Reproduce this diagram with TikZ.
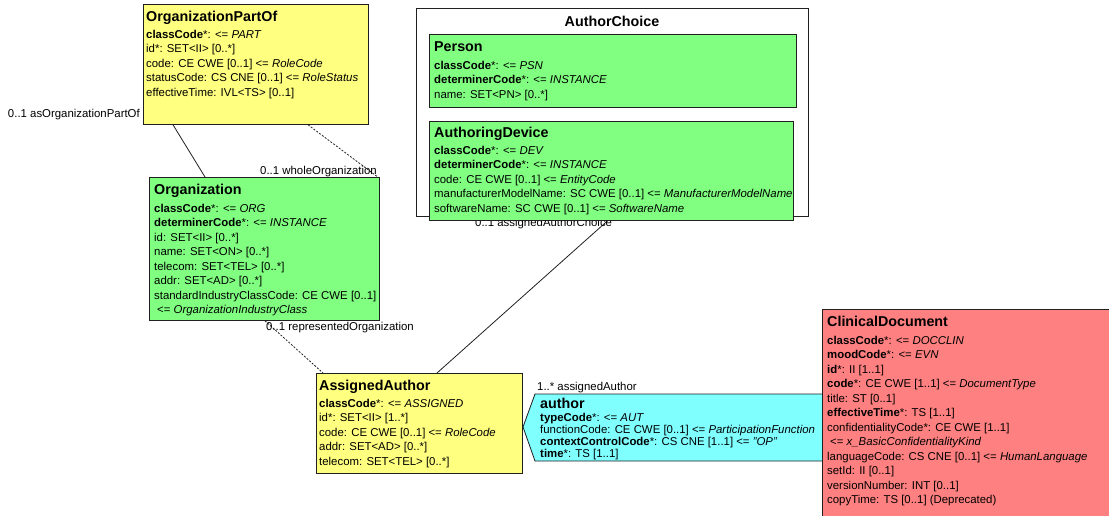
\documentclass[tikz,border=0pt]{standalone}
\usepackage{fontspec}
\setmainfont{Liberation Sans}
\usetikzlibrary{calc,backgrounds}
\definecolor{yel}{HTML}{FFFF80}
\definecolor{grn}{HTML}{80FF80}
\definecolor{cyn}{HTML}{80FFFF}
\definecolor{rosa}{HTML}{FF8080}
\definecolor{edge}{HTML}{202020}
\begin{document}
\begin{tikzpicture}[x=1pt,y=-1pt,
  box/.style={draw=edge,line width=0.8pt,inner sep=0pt,anchor=north west},
  ttl/.style={anchor=base west,inner sep=0pt,font=\fontsize{14.3}{16}\selectfont\bfseries},
  attr/.style={anchor=north west,inner sep=0pt,align=left,font=\fontsize{11.4}{14.5}\selectfont},
  attrs/.style={anchor=north west,inner sep=0pt,align=left,font=\fontsize{11.4}{12}\selectfont},
  lbl/.style={inner sep=0pt,font=\fontsize{11.4}{13}\selectfont},
  conn/.style={line width=0.8pt,draw=edge},
  dconn/.style={conn,dash pattern=on 2pt off 1.5pt}]
\useasboundingbox (0,0) rectangle (1109,515);
\clip (0,0) rectangle (1109,515);

% OrganizationPartOf
\node[box,fill=yel,minimum width=225pt,minimum height=120pt] (opo) at (143,4) {};
\node[ttl] (opoH) at (146,21) {OrganizationPartOf};
\node[attr] (opoT) at (146,28) {\strut\textbf{classCode}*: <= \textit{PART}\\
id*: SET<II> [0..*]\\
code: CE CWE [0..1] <= \textit{RoleCode}\\
statusCode: CS CNE [0..1] <= \textit{RoleStatus}\\
effectiveTime: IVL<TS> [0..1]};

% Organization
\node[box,fill=grn,minimum width=230pt,minimum height=143pt] (org) at (149,177) {};
\node[ttl] (orgH) at (154,194) {Organization};
\node[attr] (orgT) at (154,202) {\strut\textbf{classCode}*: <= \textit{ORG}\\
\textbf{determinerCode}*: <= \textit{INSTANCE}\\
id: SET<II> [0..*]\\
name: SET<ON> [0..*]\\
telecom: SET<TEL> [0..*]\\
addr: SET<AD> [0..*]\\
standardIndustryClassCode: CE CWE [0..1]\\
\hspace{3pt}<= \textit{OrganizationIndustryClass}};

% AuthorChoice
\node[box,fill=white,minimum width=392pt,minimum height=208pt] (ach) at (416,8) {};
\node[ttl,anchor=base] (achH) at (612,26) {AuthorChoice};

% AssignedAuthor
\node[box,fill=yel,minimum width=206pt,minimum height=100pt] (asa) at (316,373) {};
\node[ttl] (asaH) at (319,390) {AssignedAuthor};
\node[attr] (asaT) at (319,397) {\strut\textbf{classCode}*: <= \textit{ASSIGNED}\\
id*: SET<II> [1..*]\\
code: CE CWE [0..1] <= \textit{RoleCode}\\
addr: SET<AD> [0..*]\\
telecom: SET<TEL> [0..*]};

% connectors and labels behind the boxes
\begin{pgfonlayer}{background}
\draw[conn] ($(opo.south west)+(30,0)$) -- ($(org.north west)+(56,0)$);
\draw[dconn] ($(opo.south west)+(165,0)$) -- ($(org.north east)+(-2,0)$);
\draw[dconn] ($(org.south west)+(116,0)$) -- ($(asa.north west)+(7,0)$);
\draw[conn] ($(asa.north west)+(121,0)$) -- ($(ach.south west)+(196,0)$);
\node[lbl,anchor=base east] (l1) at (140,117) {0..1 asOrganizationPartOf};
\node[lbl,anchor=base west] (l2) at (260,174) {0..1 wholeOrganization};
\node[lbl,anchor=base west] (l3) at (266,330) {0..1 representedOrganization};
\node[lbl,anchor=base west] (l4) at (475,226) {0..1 assignedAuthorChoice};
\node[lbl,anchor=base west] (l5) at (537,390) {1..* assignedAuthor};
\end{pgfonlayer}

% Person
\node[box,fill=grn,minimum width=367pt,minimum height=73pt] (psn) at (429,34) {};
\node[ttl] (psnH) at (434,51) {Person};
\node[attr] (psnT) at (434,59) {\strut\textbf{classCode}*: <= \textit{PSN}\\
\textbf{determinerCode}*: <= \textit{INSTANCE}\\
name: SET<PN> [0..*]};

% AuthoringDevice
\node[box,fill=grn,minimum width=364pt,minimum height=99pt] (adv) at (429,121) {};
\node[ttl] (advH) at (434,137) {AuthoringDevice};
\node[attr] (advT) at (434,144) {\strut\textbf{classCode}*: <= \textit{DEV}\\
\textbf{determinerCode}*: <= \textit{INSTANCE}\\
code: CE CWE [0..1] <= \textit{EntityCode}\\
manufacturerModelName: SC CWE [0..1] <= \textit{ManufacturerModelName}\\
softwareName: SC CWE [0..1] <= \textit{SoftwareName}};

% author participation
\coordinate (autTip) at (523,427);
\draw[conn,fill=cyn] (autTip) -- (535,394) -- (840,394) -- (840,461) -- (535,461) -- cycle;
\node[ttl] (autH) at (540,408) {author};
\node[attrs] (autT) at (540,412.7) {\strut\textbf{typeCode}*: <= \textit{AUT}\\
functionCode: CE CWE [0..1] <= \textit{ParticipationFunction}\\
\textbf{contextControlCode}*: CS CNE [1..1] <= \textit{"OP"}\\
\textbf{time}*: TS [1..1]};

% ClinicalDocument
\node[box,fill=rosa,minimum width=300pt,minimum height=220pt] (cd) at (822,309) {};
\node[ttl] (cdH) at (827,326) {ClinicalDocument};
\node[attr] (cdT) at (827,334) {\strut\textbf{classCode}*: <= \textit{DOCCLIN}\\
\textbf{moodCode}*: <= \textit{EVN}\\
\textbf{id}*: II [1..1]\\
\textbf{code}*: CE CWE [1..1] <= \textit{DocumentType}\\
title: ST [0..1]\\
\textbf{effectiveTime}*: TS [1..1]\\
confidentialityCode*: CE CWE [1..1]\\
\hspace{3pt}<= \textit{x\_BasicConfidentialityKind}\\
languageCode: CS CNE [0..1] <= \textit{HumanLanguage}\\
setId: II [0..1]\\
versionNumber: INT [0..1]\\
copyTime: TS [0..1] (Deprecated)};
\end{tikzpicture}
\end{document}
